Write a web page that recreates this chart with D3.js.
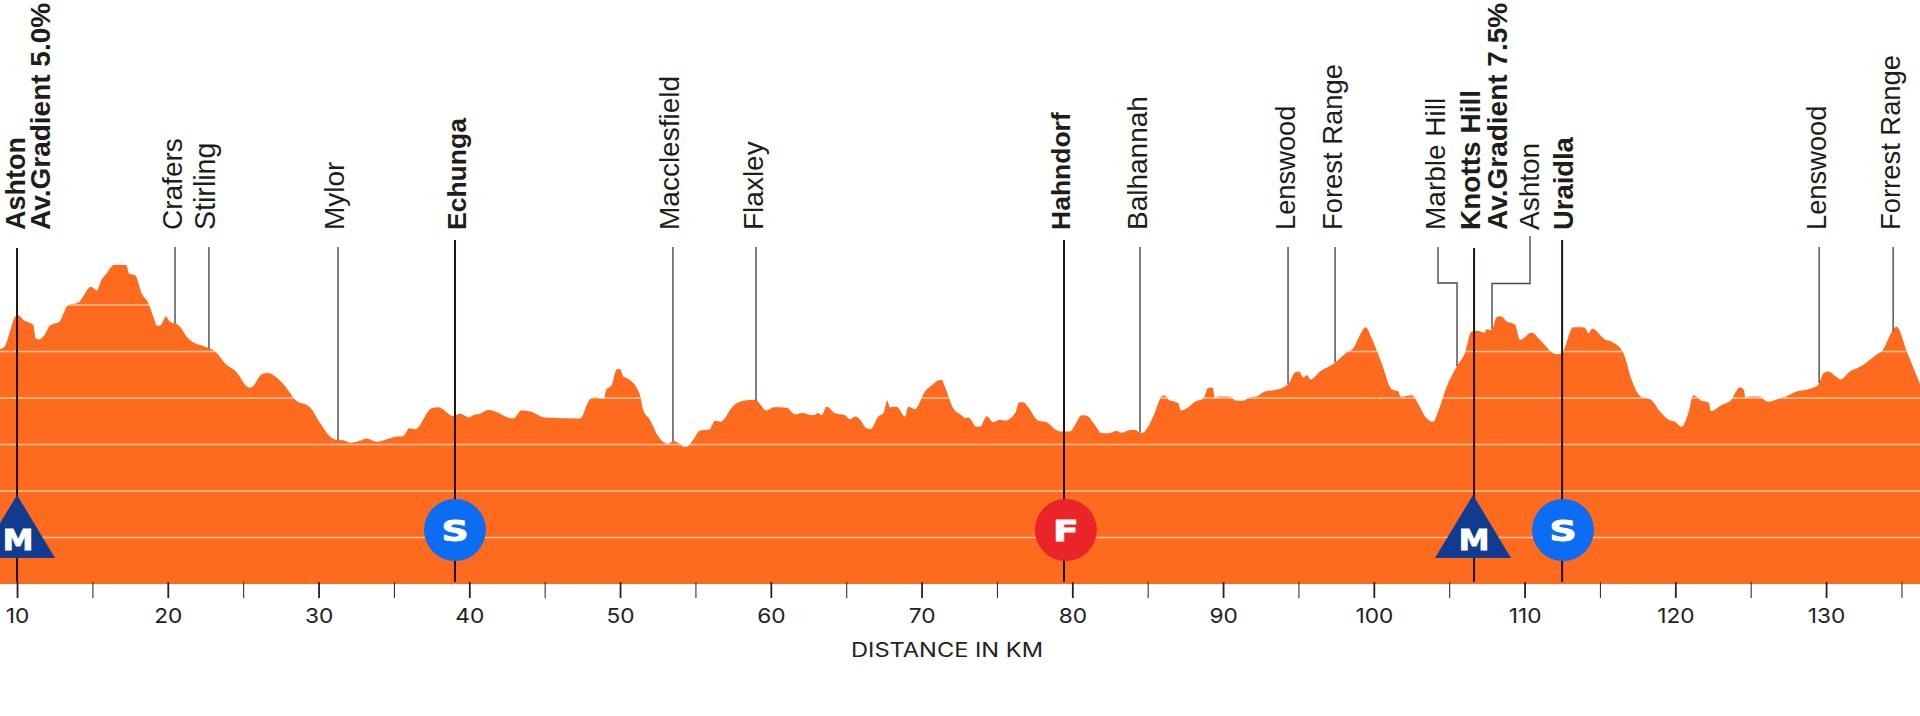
<!DOCTYPE html>
<html>
<head>
<meta charset="utf-8">
<script src="https://cdn.jsdelivr.net/npm/d3@7/dist/d3.min.js"></script>
<style>
  html, body { margin: 0; padding: 0; background: #fff; }
  svg { display: block; }
  .place { font-family: "Liberation Sans", Arial, sans-serif; font-size: 28px; fill: #1d1d1b; }
  .place.major { font-weight: 700; }
  .tick text { font-family: Inter, sans-serif; font-size: 20.6px; fill: #222; }
</style>
</head>
<body>
<svg id="profile" width="1920" height="716"></svg>
<script>
// Stage profile: distance (km) and elevation (m) of each surveyed point
const profileKm = [
  8.87,9.20,9.53,9.87,10.08,10.42,11.08,11.24,11.48,11.81,12.19,12.80,13.40,14.06,14.40,14.89,15.32,15.57,15.95,16.43,
  17.23,17.45,17.83,18.27,18.71,19.04,19.30,19.53,19.88,20.15,20.70,21.36,21.80,22.36,23.24,23.79,24.52,25.41,25.67,26.23,
  26.67,27.22,27.89,28.44,29.43,30.10,30.76,31.20,31.64,32.09,32.75,33.19,33.86,35.18,35.62,36.02,36.40,37.51,37.95,38.94,
  39.38,40.00,40.26,40.71,41.26,42.92,43.47,44.03,45.02,47.34,48.00,48.34,48.94,49.07,49.45,49.78,50.00,50.22,50.55,51.28,
  51.54,51.98,52.54,53.20,53.53,53.86,54.24,54.42,54.86,55.30,55.96,56.30,56.67,57.51,58.17,58.95,59.73,60.17,61.05,61.60,
  62.05,62.82,63.15,63.37,63.70,64.26,64.92,65.25,65.58,66.03,66.25,66.63,67.13,67.46,67.73,67.90,68.35,68.90,69.12,69.56,
  70.23,70.56,71.33,71.55,72.10,72.66,72.88,73.10,73.66,73.87,74.32,74.76,75.20,75.53,76.20,76.48,76.75,77.08,77.74,78.30,
  78.85,79.29,79.85,80.18,80.62,80.95,81.50,81.95,82.38,82.94,83.27,83.82,84.16,84.60,85.37,85.92,86.08,86.37,87.03,87.19,
  87.69,88.14,88.69,89.02,89.31,89.46,89.68,90.35,90.90,91.34,91.78,92.23,92.78,93.44,94.32,94.77,95.05,95.32,95.54,95.81,
  96.43,97.31,98.20,98.64,98.97,99.46,99.86,100.52,101.18,101.62,101.78,102.51,102.95,103.39,103.94,104.27,104.83,105.49,106.04,106.49,
  106.93,107.37,107.48,107.82,108.15,108.43,108.85,109.36,109.70,110.47,111.02,112.13,112.46,113.23,113.63,114.00,114.23,114.49,115.33,115.78,
  116.55,117.10,117.43,117.83,118.36,118.98,119.53,119.98,120.42,120.86,121.19,121.75,122.23,122.36,123.07,123.74,123.96,124.29,124.55,124.66,
  124.90,125.50,126.16,126.72,127.39,128.05,128.82,129.48,129.81,130.14,130.65,130.96,131.58,132.25,133.24,133.84,134.24,134.68,135.35,136.23
];
const profileElevation = [
  505,512,543,575,578,568,557,528,526,535,556,564,600,605,619,639,631,652,668,686,
  686,667,664,625,604,575,555,557,575,564,557,528,518,512,497,475,457,422,426,451,
  454,444,421,396,380,346,317,310,309,304,308,313,306,317,318,335,333,378,380,361,
  366,358,363,366,374,356,373,371,358,356,397,401,398,417,428,462,462,446,441,410,
  374,353,317,301,308,303,295,295,310,330,333,351,349,383,394,396,373,380,379,365,
  368,363,368,363,381,367,363,354,360,349,337,333,360,367,394,380,381,360,381,376,
  414,424,439,424,378,363,357,358,338,338,361,348,353,351,367,391,391,380,351,348,
  333,328,328,342,363,362,342,324,324,329,325,331,331,324,360,403,406,397,389,373,
  380,392,399,422,422,398,403,403,394,394,401,403,414,417,429,455,457,444,449,440,
  457,473,498,507,528,552,528,475,419,414,403,406,387,361,349,371,424,467,496,543,
  544,540,548,546,574,576,564,558,525,541,525,494,496,552,552,551,539,549,526,521,
  497,439,414,401,397,371,354,349,338,367,406,394,390,372,385,397,410,423,417,398,
  403,403,392,397,404,414,419,428,452,457,446,440,457,467,491,507,535,553,500,430
];
const gridElevations = [100, 200, 300, 400, 500, 600];
const majorDistances = [10, 20, 30, 40, 50, 60, 70, 80, 90, 100, 110, 120, 130];
const minorDistances = [15, 25, 35, 45, 55, 65, 75, 85, 95, 105, 115, 125, 135];

// Towns along the route: stem distance, label lines, climb or sprint status
const placeNames = ["Ashton","Crafers","Stirling","Mylor","Echunga","Macclesfield","Flaxley","Hahndorf","Balhannah","Lenswood","Forest Range","Marble Hill","Knotts Hill","Ashton","Uraidla","Lenswood","Forrest Range"];
const placeKm = [10,20.48,22.73,31.29,39.05,53.51,59.02,79.45,84.49,94.31,97.43,105.52,106.65,107.84,112.49,129.54,134.45];
const placeMajor = [true,false,false,false,true,false,false,true,false,false,false,false,true,false,true,false,false];
const placeSubLine = {0:"Av.Gradient 5.0%", 12:"Av.Gradient 7.5%"};

// Race markers: climbs, sprints, finish
const markerKm = [10, 39.05, 79.57, 106.58, 112.55];
const markerLetter = ["M","S","F","M","S"];

const width = 1920, height = 716;
const svg = d3.select("#profile");

const x = d3.scaleLinear().domain([8.87, 136.23]).range([0, width]);
const y = d3.scaleLinear().domain([0, 600]).range([584, 305]);

const points = profileKm.map((km, i) => [km, profileElevation[i]]);
const area = d3.area().x(d => x(d[0])).y0(y(0)).y1(d => y(d[1])).curve(d3.curveMonotoneX);

// Elevation at any distance, used to land each stem on the profile
const elevationAt = d3.scaleLinear().domain(profileKm).range(profileElevation);

svg.append("clipPath").attr("id", "terrain").append("path").attr("d", area(points));
svg.append("path").attr("d", area(points)).attr("fill", "#fe6a1e");

// Horizontal elevation bands only show inside the terrain
svg.append("g").attr("clip-path", "url(#terrain)")
  .selectAll("line").data(gridElevations).join("line")
  .attr("x1", 0).attr("x2", width)
  .attr("y1", d => y(d)).attr("y2", d => y(d))
  .attr("stroke", "#ffc79c").attr("stroke-width", 1.4);

// Distance axis with labelled major ticks and plain minor ticks
const axis = d3.axisBottom(x)
  .tickValues(majorDistances).tickSize(16).tickPadding(8).tickFormat(d3.format("d"));
const axisG = svg.append("g").attr("transform", "translate(0,582)").call(axis);
axisG.select(".domain").remove();
axisG.selectAll(".tick line").attr("stroke", "#222").attr("stroke-width", 1.8);
axisG.selectAll(".tick text").attr("y", 41).attr("dy", 0).attr("transform", "scale(1.1,1)");

const minorAxis = d3.axisBottom(x).tickValues(minorDistances).tickSize(16).tickFormat("");
const minorG = svg.append("g").attr("transform", "translate(0,582)").call(minorAxis);
minorG.select(".domain").remove();
minorG.selectAll(".tick line").attr("stroke", "#333").attr("stroke-width", 1.1);

svg.append("text").text("DISTANCE IN KM")
  .attr("transform", "translate(947,656.5) scale(1.2,1)").attr("text-anchor", "middle")
  .attr("font-family", "Inter, sans-serif").attr("font-size", 19.7).attr("fill", "#222");

// Stems: major towns run through to the base, the rest stop at the terrain
const stemTop = i => placeMajor[i] ? (i === 0 || i === 12 ? 248 : 240) : (i === 13 ? 236 : 247);
const labelAnchor = {11: 1438, 13: 1530}; // labels pushed aside in the crowded section
const jogY = {11: 283, 13: 283.5};
const labelShift = {0: 7.6, 4: 11, 7: 6, 12: 6, 13: 9, 14: 11};
const labelSize = {0: 27, 2: 28.6, 4: 26.5, 7: 26.5, 9: 27.3, 10: 27.4, 14: 27.4, 15: 27.3, 16: 27.4};
const subLineOffset = {0: 25.8, 12: 27};

placeNames.forEach((name, i) => {
  const stemX = x(placeKm[i]);
  const path = d3.path();
  if (labelAnchor[i] !== undefined) {
    path.moveTo(labelAnchor[i], stemTop(i));
    path.lineTo(labelAnchor[i], jogY[i]);
    path.lineTo(stemX, jogY[i]);
  } else {
    path.moveTo(stemX, stemTop(i));
  }
  path.lineTo(stemX, placeMajor[i] ? 582 : y(elevationAt(placeKm[i])));
  svg.append("path").attr("d", path.toString()).attr("fill", "none")
    .attr("stroke", placeMajor[i] ? "#1d1410" : "#4a4a4a")
    .attr("stroke-width", placeMajor[i] ? 2 : 1.4);

  const labelX = labelAnchor[i] !== undefined ? labelAnchor[i] : stemX;
  const shift = labelShift[i] !== undefined ? labelShift[i] : 6.5;
  const label = svg.append("g")
    .attr("transform", `translate(${labelX + shift},230) rotate(-90)`);
  const main = label.append("text").attr("class", placeMajor[i] ? "place major" : "place").text(name);
  if (labelSize[i]) main.style("font-size", labelSize[i] + "px");
  if (placeSubLine[i]) {
    label.append("text").attr("class", "place major").attr("y", subLineOffset[i]).text(placeSubLine[i]);
  }
});

// Markers: triangle for climbs, discs for sprints and the finish
markerKm.forEach((km, i) => {
  const letter = markerLetter[i];
  const cx = x(km);
  const g = svg.append("g").attr("transform", `translate(${cx},530)`);
  if (letter === "M") {
    g.append("path").attr("d", "M0,-35L38,28L-38,28Z").attr("fill", "#113a91");
  } else {
    g.append("circle").attr("r", 31).attr("fill", letter === "S" ? "#0c6cf2" : "#ea2428");
  }
  g.append("text").text(letter)
    .attr("transform", letter === "M" ? "translate(1,20) scale(1.1,1)" : "translate(0,11) scale(1.3,1)")
    .attr("text-anchor", "middle")
    .attr("font-family", "'DejaVu Sans', sans-serif").attr("font-weight", 700)
    .attr("font-size", letter === "M" ? 28 : 29).attr("fill", "#fff")
    .attr("stroke", "#fff").attr("stroke-width", 0.9);
});
</script>
</body>
</html>
